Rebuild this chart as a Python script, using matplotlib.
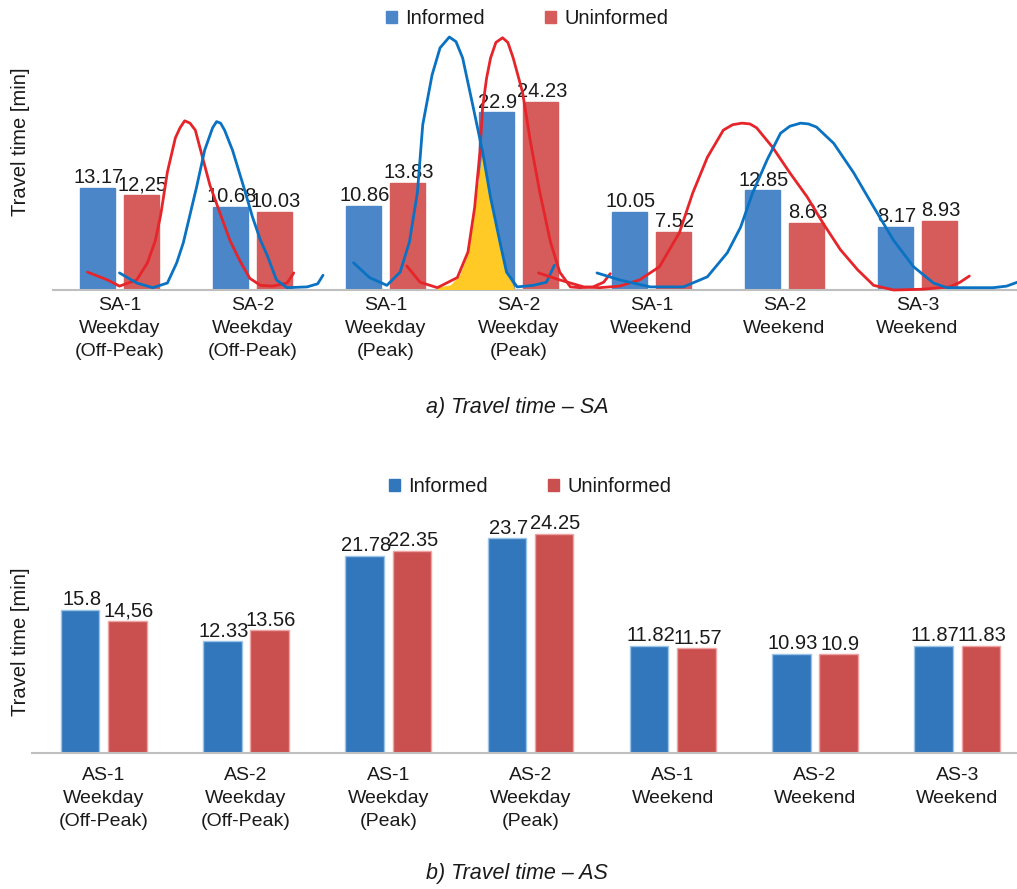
import matplotlib
matplotlib.use("Agg")
import matplotlib.pyplot as plt
from matplotlib.patches import Patch
import numpy as np

plt.rcParams['font.family'] = ['Liberation Sans', 'DejaVu Sans']

# --- data: (a) SA ---
sa_cats = ["SA-1\nWeekday\n(Off-Peak)", "SA-2\nWeekday\n(Off-Peak)", "SA-1\nWeekday\n(Peak)",
           "SA-2\nWeekday\n(Peak)", "SA-1\nWeekend", "SA-2\nWeekend", "SA-3\nWeekend"]
sa_informed = [13.17, 10.68, 10.86, 22.9, 10.05, 12.85, 8.17]
sa_uninformed = [12.25, 10.03, 13.83, 24.23, 7.52, 8.63, 8.93]
sa_informed_lbl = ["13.17", "10.68", "10.86", "22.9", "10.05", "12.85", "8.17"]
sa_uninformed_lbl = ["12,25", "10.03", "13.83", "24.23", "7.52", "8.63", "8.93"]

# --- data: (b) AS ---
as_cats = ["AS-1\nWeekday\n(Off-Peak)", "AS-2\nWeekday\n(Off-Peak)", "AS-1\nWeekday\n(Peak)",
           "AS-2\nWeekday\n(Peak)", "AS-1\nWeekend", "AS-2\nWeekend", "AS-3\nWeekend"]
as_informed = [15.8, 12.33, 21.78, 23.7, 11.82, 10.93, 11.87]
as_uninformed = [14.56, 13.56, 22.35, 24.25, 11.57, 10.9, 11.83]
as_informed_lbl = ["15.8", "12.33", "21.78", "23.7", "11.82", "10.93", "11.87"]
as_uninformed_lbl = ["14,56", "13.56", "22.35", "24.25", "11.57", "10.9", "11.83"]

# hand-drawn distribution sketches over chart (a) (x in category units, y in min)
red1_x = [-0.24, -0.09, 0.00, 0.13, 0.21, 0.27, 0.31, 0.36, 0.42, 0.455, 0.49, 0.53, 0.57, 0.61, 0.68, 0.76, 0.83, 0.91, 0.98, 1.06, 1.15, 1.26, 1.31]
red1_y = [2.3, 1.3, 0.5, 1.3, 3.5, 6.4, 9.7, 15.2, 19.6, 20.9, 21.8, 21.5, 20.6, 18.0, 13.5, 9.7, 6.4, 3.6, 1.5, 0.6, 0.5, 0.9, 2.2]
blue1_x = [0.00, 0.13, 0.25, 0.36, 0.43, 0.48, 0.53, 0.58, 0.64, 0.70, 0.73, 0.76, 0.79, 0.85, 0.93, 1.00, 1.06, 1.11, 1.18, 1.26, 1.41, 1.49, 1.53]
blue1_y = [2.2, 0.9, 0.3, 0.9, 3.5, 6.1, 9.7, 13.3, 18.0, 20.9, 21.7, 21.5, 20.6, 18.0, 13.5, 9.4, 6.4, 4.5, 1.3, 0.3, 0.4, 0.8, 1.9]
red2_x = [2.16, 2.26, 2.39, 2.54, 2.62, 2.67, 2.71, 2.73, 2.76, 2.79, 2.83, 2.88, 2.92, 2.96, 3.03, 3.09, 3.16, 3.24, 3.31, 3.39, 3.46, 3.56, 3.64, 3.69]
red2_y = [3.1, 1.0, 0.3, 1.6, 4.9, 10.6, 17.8, 23.5, 27.3, 29.9, 31.9, 32.5, 31.9, 29.9, 25.5, 19.1, 12.6, 6.2, 2.3, 0.4, 0.3, 0.4, 1.0, 2.1]
blue2_x = [1.76, 1.88, 2.01, 2.11, 2.18, 2.24, 2.28, 2.35, 2.41, 2.48, 2.53, 2.58, 2.66, 2.73, 2.79, 2.86, 2.91, 2.99, 3.11, 3.21, 3.27]
blue2_y = [3.5, 1.6, 0.6, 2.3, 6.2, 12.6, 21.3, 27.7, 31.2, 32.6, 32.0, 29.9, 23.5, 17.8, 11.9, 6.2, 2.3, 0.4, 0.6, 1.0, 3.2]
red3_x = [3.15, 3.31, 3.49, 3.61, 3.76, 3.91, 4.06, 4.21, 4.31, 4.42, 4.54, 4.61, 4.68, 4.74, 4.79, 4.91, 5.04, 5.17, 5.29, 5.42, 5.55, 5.67, 5.82, 6.04, 6.24, 6.32, 6.39]
red3_y = [2.2, 1.3, 0.4, 0.3, 0.5, 1.3, 3.0, 7.4, 12.5, 17.1, 20.6, 21.3, 21.5, 21.4, 20.9, 18.4, 15.1, 12.0, 8.6, 5.2, 2.6, 0.6, 0.0, 0.1, 0.4, 1.0, 1.8]
blue3_x = [3.59, 3.76, 3.99, 4.24, 4.42, 4.57, 4.67, 4.76, 4.87, 4.97, 5.04, 5.12, 5.18, 5.24, 5.37, 5.52, 5.67, 5.82, 5.97, 6.12, 6.22, 6.42, 6.57, 6.67, 6.75]
blue3_y = [2.2, 1.3, 0.4, 0.4, 1.7, 4.8, 8.1, 12.5, 16.8, 20.2, 21.1, 21.5, 21.4, 21.0, 18.9, 15.1, 10.7, 6.4, 3.0, 0.9, 0.3, 0.3, 0.3, 0.5, 1.0]
overlap_x = [2.39, 2.49, 2.56, 2.61, 2.66, 2.69, 2.73, 2.79, 2.86, 2.91, 2.97, 2.97, 2.39]
overlap_y = [0.3, 0.6, 1.8, 4.1, 8.4, 12.6, 17.8, 11.9, 6.2, 2.3, 0.3, 0.0, 0.0]

sa_blue, sa_red = "#4A86C8", "#D65B5B"
as_blue, as_red = "#3277BC", "#C9504F"
line_blue, line_red = "#0A72C2", "#E5252A"
txt = "#1A1A1A"

fig = plt.figure(figsize=(10.17, 8.89), dpi=100)


def style_axes(ax, cats, pad):
    for s in ["top", "right", "left"]:
        ax.spines[s].set_visible(False)
    ax.spines["bottom"].set_color("#BFBFBF")
    ax.spines["bottom"].set_linewidth(1.5)
    ax.set_yticks([])
    ax.set_xticks(range(len(cats)))
    ax.set_xticklabels(cats, fontsize=14, color=txt, linespacing=1.45)
    ax.tick_params(axis="x", length=0, pad=pad)


def bars(ax, inf, uninf, inf_lbl, uninf_lbl, c1, c2, w, off, edge1, edge2):
    x = np.arange(len(inf))
    b1 = ax.bar(x - off, inf, w, color=c1, edgecolor=edge1, linewidth=1, zorder=2)
    b2 = ax.bar(x + off, uninf, w, color=c2, edgecolor=edge2, linewidth=1, zorder=2)
    for rects, lbls in [(b1, inf_lbl), (b2, uninf_lbl)]:
        for r, l in zip(rects, lbls):
            ax.annotate(l, (r.get_x() + r.get_width() / 2, r.get_height()), xytext=(1, 0.5),
                        textcoords="offset points", ha="center", va="bottom",
                        fontsize=14.5, color=txt, zorder=3)


# ---- (a) SA ----
ax1 = fig.add_axes([53 / 1017, 1 - 290 / 889, 964 / 1017, 262 / 889])
ax1.set_xlim(-0.5, 6.748)
ax1.set_ylim(0, 33.76)
style_axes(ax1, sa_cats, 5)
bars(ax1, sa_informed, sa_uninformed, sa_informed_lbl, sa_uninformed_lbl,
     sa_blue, sa_red, 0.263, 0.165, sa_blue, sa_red)
ax1.fill(overlap_x, overlap_y, color="#FFC926", zorder=4, linewidth=0)
for cx, cy, col in [(red1_x, red1_y, line_red), (blue1_x, blue1_y, line_blue),
                    (red2_x, red2_y, line_red), (blue2_x, blue2_y, line_blue),
                    (red3_x, red3_y, line_red), (blue3_x, blue3_y, line_blue)]:
    ax1.plot(cx, cy, color=col, linewidth=2.0, solid_joinstyle="round",
             solid_capstyle="round", zorder=5, clip_on=False)

# ---- (b) AS ----
ax2 = fig.add_axes([32.4 / 1017, 1 - 753 / 889, 984.6 / 1017, 248 / 889])
ax2.set_xlim(-0.502, 6.42)
ax2.set_ylim(0, 27.4)
style_axes(ax2, as_cats, 10)
bars(ax2, as_informed, as_uninformed, as_informed_lbl, as_uninformed_lbl,
     as_blue, as_red, 0.27, 0.166, "#9CC3E8", "#EFA3A2")

# y labels, captions, legends
fig.text(21 / 1017, 1 - 142 / 889, "Travel time [min]", rotation=90, ha="center", va="center",
         fontsize=14.5, color=txt)
fig.text(21 / 1017, 1 - 642 / 889, "Travel time [min]", rotation=90, ha="center", va="center",
         fontsize=14.5, color=txt)
fig.text(517 / 1017, 1 - 408 / 889, "a) Travel time \u2013 SA", ha="center", va="center",
         fontsize=15.5, style="italic", color=txt)
fig.text(517 / 1017, 1 - 873 / 889, "b) Travel time \u2013 AS", ha="center", va="center",
         fontsize=15.5, style="italic", color=txt)

for (c1, c2, xc, yc) in [(sa_blue, sa_red, 527, 18.5), (as_blue, as_red, 530, 486.5)]:
    handles = [Patch(facecolor=c1, edgecolor=c1), Patch(facecolor=c2, edgecolor=c2)]
    fig.legend(handles, ["Informed", "Uninformed"], loc="center", ncol=2,
               bbox_to_anchor=(xc / 1017, 1 - yc / 889), frameon=False, fontsize=14.5,
               handlelength=0.55, handleheight=0.55, handletextpad=0.4, columnspacing=3.0,
               labelcolor=txt)

fig.savefig("out.png", dpi=100)
